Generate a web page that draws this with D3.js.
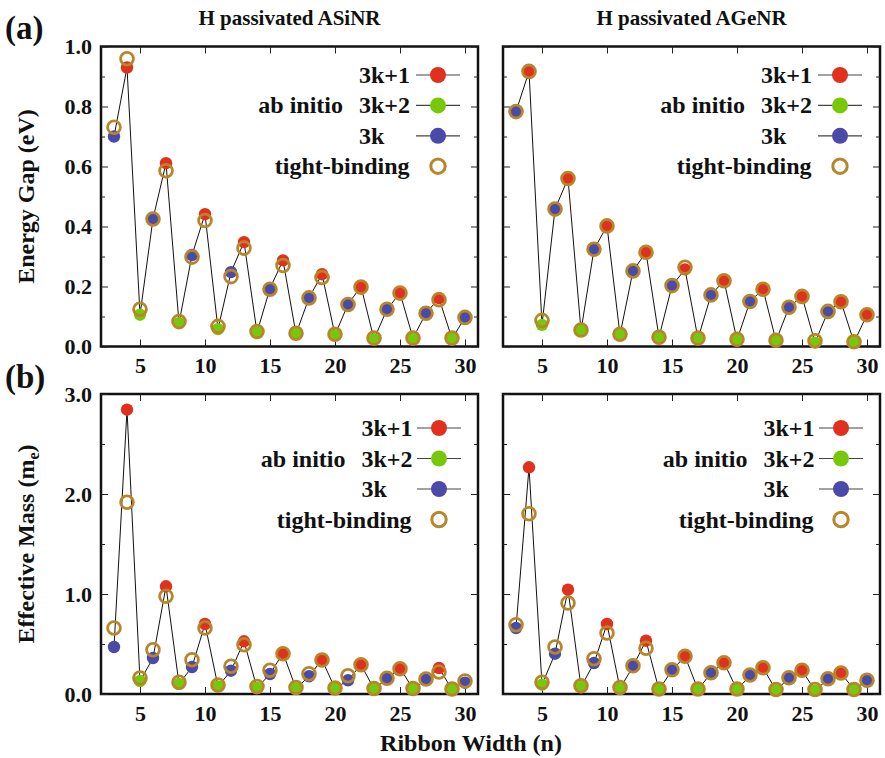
<!DOCTYPE html>
<html>
<head>
<meta charset="utf-8">
<script src="https://cdn.jsdelivr.net/npm/d3@7"></script>
<style>
    body { margin: 0; background: #fff; }
    svg text { font-family: "Liberation Serif", "Times New Roman", serif; font-weight: bold; }
</style>
</head>
<body>
<svg id="chart" width="885" height="758"></svg>
<script>
// ribbon widths n
const ribbonWidths = [3, 4, 5, 6, 7, 8, 9, 10, 11, 12, 13, 14, 15, 16, 17, 18, 19, 20, 21, 22, 23, 24, 25, 26, 27, 28, 29, 30];

// energy gap (eV)
const gapSiAbInitio = [0.70, 0.93, 0.106, 0.426, 0.611, 0.078, 0.305, 0.441, 0.058, 0.248, 0.348, 0.047, 0.194, 0.287, 0.042, 0.162, 0.241, 0.038, 0.141, 0.200, 0.024, 0.124, 0.178, 0.028, 0.111, 0.161, 0.026, 0.097];
const gapSiTightBinding = [0.731, 0.959, 0.124, 0.425, 0.586, 0.083, 0.298, 0.420, 0.067, 0.233, 0.328, 0.050, 0.191, 0.270, 0.044, 0.162, 0.230, 0.041, 0.140, 0.198, 0.028, 0.124, 0.178, 0.028, 0.111, 0.156, 0.028, 0.097];
const gapGeAbInitio = [0.783, 0.917, 0.072, 0.458, 0.560, 0.053, 0.324, 0.402, 0.039, 0.252, 0.314, 0.031, 0.203, 0.257, 0.026, 0.172, 0.219, 0.022, 0.150, 0.191, 0.019, 0.131, 0.167, 0.013, 0.117, 0.149, 0.014, 0.106];
const gapGeTightBinding = [0.783, 0.917, 0.087, 0.458, 0.560, 0.055, 0.324, 0.402, 0.041, 0.252, 0.314, 0.031, 0.203, 0.264, 0.028, 0.172, 0.219, 0.024, 0.150, 0.191, 0.021, 0.131, 0.167, 0.019, 0.117, 0.149, 0.016, 0.106];

// effective mass (m_e)
const massSiAbInitio = [0.47, 2.843, 0.13, 0.36, 1.077, 0.10, 0.27, 0.70, 0.075, 0.233, 0.527, 0.06, 0.20, 0.41, 0.055, 0.177, 0.343, 0.055, 0.137, 0.293, 0.05, 0.153, 0.26, 0.05, 0.143, 0.26, 0.045, 0.113];
const massSiTightBinding = [0.66, 1.917, 0.16, 0.443, 0.977, 0.117, 0.343, 0.66, 0.09, 0.277, 0.493, 0.075, 0.237, 0.403, 0.065, 0.203, 0.34, 0.06, 0.183, 0.293, 0.055, 0.157, 0.253, 0.055, 0.15, 0.22, 0.05, 0.13];
const massGeAbInitio = [0.66, 2.267, 0.093, 0.403, 1.043, 0.07, 0.31, 0.70, 0.053, 0.277, 0.533, 0.043, 0.237, 0.377, 0.043, 0.21, 0.313, 0.043, 0.183, 0.263, 0.037, 0.16, 0.237, 0.033, 0.15, 0.21, 0.043, 0.137];
const massGeTightBinding = [0.693, 1.803, 0.117, 0.47, 0.91, 0.083, 0.353, 0.61, 0.065, 0.283, 0.457, 0.05, 0.243, 0.377, 0.05, 0.213, 0.313, 0.05, 0.19, 0.263, 0.045, 0.163, 0.237, 0.045, 0.153, 0.21, 0.045, 0.137];

const xTicks = [5, 10, 15, 20, 25, 30];
const gapTicks = [0.0, 0.2, 0.4, 0.6, 0.8, 1.0];
const gapMinorTicks = [0.1, 0.3, 0.5, 0.7, 0.9];
const massTicks = [0.0, 1.0, 2.0, 3.0];
const massMinorTicks = [0.5, 1.5, 2.5];

const families = ['3k+1', '3k+2', '3k'];
const familyColor = { '3k+1': '#e0301e', '3k+2': '#77c80a', '3k': '#4a4aa8' };
const tbColor = '#b8862a';

// the n=30 AGeNR gap point is drawn red in the original figure
const gapGeFamilyOverride = { 30: '3k+1' };

function familyOf(n, override) {
    if (override && override[n]) return override[n];
    return ['3k', '3k+1', '3k+2'][n % 3];
}

const svg = d3.select('#chart');

const cols = [{ x0: 101, x1: 478 }, { x0: 503, x1: 880 }];
const rows = [{ y0: 46.5, y1: 346.5 }, { y0: 394, y1: 694 }];

function drawPanel(col, row, opts) {
    const x = d3.scaleLinear().domain([2, 31]).range([col.x0, col.x1]);
    const y = d3.scaleLinear().domain(opts.yDomain).range([row.y1, row.y0]);
    const g = svg.append('g');

    // frame
    g.append('rect')
        .attr('x', col.x0).attr('y', row.y0)
        .attr('width', col.x1 - col.x0).attr('height', row.y1 - row.y0)
        .attr('fill', 'none').attr('stroke', '#111').attr('stroke-width', 2.5);

    // major/minor ticks on all four sides
    g.append('g').attr('class', 'ylab').attr('transform', `translate(${col.x0},0)`)
        .call(d3.axisLeft(y).tickValues(opts.ticks).tickSize(-7).tickPadding(9)
            .tickFormat(opts.showY ? d3.format('.1f') : ''));
    g.append('g').attr('transform', `translate(${col.x0},0)`)
        .call(d3.axisLeft(y).tickValues(opts.minor).tickSize(-4).tickFormat(''));
    g.append('g').attr('transform', `translate(${col.x1},0)`)
        .call(d3.axisRight(y).tickValues(opts.ticks).tickSize(-7).tickFormat(''));
    g.append('g').attr('transform', `translate(${col.x1},0)`)
        .call(d3.axisRight(y).tickValues(opts.minor).tickSize(-4).tickFormat(''));
    g.append('g').attr('transform', `translate(0,${row.y0})`)
        .call(d3.axisTop(x).tickValues(xTicks).tickSize(-7).tickFormat(''));
    g.append('g').attr('transform', `translate(0,${row.y1})`)
        .call(d3.axisBottom(x).tickValues(xTicks).tickSize(-7).tickPadding(11));

    g.selectAll('.domain').remove();
    g.selectAll('.tick line').attr('stroke', '#222').attr('stroke-width', 1);
    g.selectAll('.tick text')
        .attr('fill', '#111')
        .style('font-family', '"Liberation Serif"')
        .style('font-weight', 'bold')
        .style('font-size', '22px');

    const points = ribbonWidths.map((n, i) => ({
        n: n,
        ab: opts.abInitio[i],
        tb: opts.tightBinding[i],
        family: familyOf(n, opts.override)
    }));

    // connecting line through ab initio values
    g.append('path')
        .datum(points)
        .attr('d', d3.line().x(d => x(d.n)).y(d => y(d.ab)))
        .attr('fill', 'none').attr('stroke', '#111').attr('stroke-width', 1);

    g.selectAll('.ab')
        .data(points)
        .enter()
        .append('circle')
        .attr('cx', d => x(d.n)).attr('cy', d => y(d.ab))
        .attr('r', 6.2)
        .attr('fill', d => familyColor[d.family]);

    g.selectAll('.tb')
        .data(points)
        .enter()
        .append('circle')
        .attr('cx', d => x(d.n)).attr('cy', d => y(d.tb))
        .attr('r', 6.4)
        .attr('fill', 'none')
        .attr('stroke', tbColor).attr('stroke-width', 2.8);

    // legend
    const lg = opts.legend;
    const cx = col.x0 + lg.circleX;
    const rowY = i => row.y0 + lg.top + i * lg.step;
    families.forEach((f, i) => {
        g.append('line')
            .attr('x1', cx - 22).attr('x2', cx + 22)
            .attr('y1', rowY(i)).attr('y2', rowY(i))
            .attr('stroke', '#444').attr('stroke-width', 1.2);
        g.append('circle')
            .attr('cx', cx).attr('cy', rowY(i)).attr('r', 8)
            .attr('fill', familyColor[f]);
        g.append('text')
            .attr('x', col.x0 + lg.textStart).attr('y', rowY(i) + 8)
            .style('font-size', '24px').attr('fill', '#111')
            .text(f);
    });
    g.append('text')
        .attr('x', col.x0 + lg.abEnd).attr('y', rowY(1) + 8)
        .attr('text-anchor', 'end')
        .style('font-size', '24px').attr('fill', '#111')
        .text('ab initio');
    g.append('text')
        .attr('x', col.x0 + lg.tbEnd).attr('y', rowY(3) + 8)
        .attr('text-anchor', 'end')
        .style('font-size', '24px').attr('fill', '#111')
        .text('tight-binding');
    g.append('circle')
        .attr('cx', cx).attr('cy', rowY(3)).attr('r', 7.2)
        .attr('fill', 'none')
        .attr('stroke', tbColor).attr('stroke-width', 3);
}

const upperLegend = { circleX: 337, top: 28.5, step: 30.4, textStart: 258, abEnd: 242, tbEnd: 308.5 };
const lowerLegend = { circleX: 338, top: 34, step: 30.5, textStart: 260.5, abEnd: 244.5, tbEnd: 310.5 };

drawPanel(cols[0], rows[0], {
    yDomain: [0, 1], ticks: gapTicks, minor: gapMinorTicks, showY: true,
    abInitio: gapSiAbInitio, tightBinding: gapSiTightBinding, legend: upperLegend
});
drawPanel(cols[1], rows[0], {
    yDomain: [0, 1], ticks: gapTicks, minor: gapMinorTicks, showY: false,
    abInitio: gapGeAbInitio, tightBinding: gapGeTightBinding, legend: upperLegend,
    override: gapGeFamilyOverride
});
drawPanel(cols[0], rows[1], {
    yDomain: [0, 3], ticks: massTicks, minor: massMinorTicks, showY: true,
    abInitio: massSiAbInitio, tightBinding: massSiTightBinding, legend: lowerLegend
});
drawPanel(cols[1], rows[1], {
    yDomain: [0, 3], ticks: massTicks, minor: massMinorTicks, showY: false,
    abInitio: massGeAbInitio, tightBinding: massGeTightBinding, legend: lowerLegend
});

// titles and labels
svg.append('text').attr('x', (cols[0].x0 + cols[0].x1) / 2).attr('y', 25)
    .attr('text-anchor', 'middle').style('font-size', '21px').attr('fill', '#111')
    .text('H passivated ASiNR');
svg.append('text').attr('x', (cols[1].x0 + cols[1].x1) / 2).attr('y', 25)
    .attr('text-anchor', 'middle').style('font-size', '21px').attr('fill', '#111')
    .text('H passivated AGeNR');

svg.append('text').attr('x', 5).attr('y', 39)
    .style('font-size', '33px').attr('fill', '#111').text('(a)');
svg.append('text').attr('x', 5).attr('y', 388)
    .style('font-size', '33px').attr('fill', '#111').text('(b)');

svg.append('text')
    .attr('transform', `translate(34,${(rows[0].y0 + rows[0].y1) / 2}) rotate(-90)`)
    .attr('text-anchor', 'middle').style('font-size', '24px').attr('fill', '#111')
    .text('Energy Gap (eV)');

const massLabel = svg.append('text')
    .attr('transform', `translate(34,${(rows[1].y0 + rows[1].y1) / 2}) rotate(-90)`)
    .attr('text-anchor', 'middle').style('font-size', '24px').attr('fill', '#111');
massLabel.append('tspan').text('Effective Mass (m');
massLabel.append('tspan').style('font-size', '16px').attr('dy', 5).text('e');
massLabel.append('tspan').attr('dy', -5).text(')');

svg.append('text').attr('x', 471).attr('y', 751)
    .attr('text-anchor', 'middle').style('font-size', '24px').attr('fill', '#111')
    .text('Ribbon Width (n)');
</script>
</body>
</html>
